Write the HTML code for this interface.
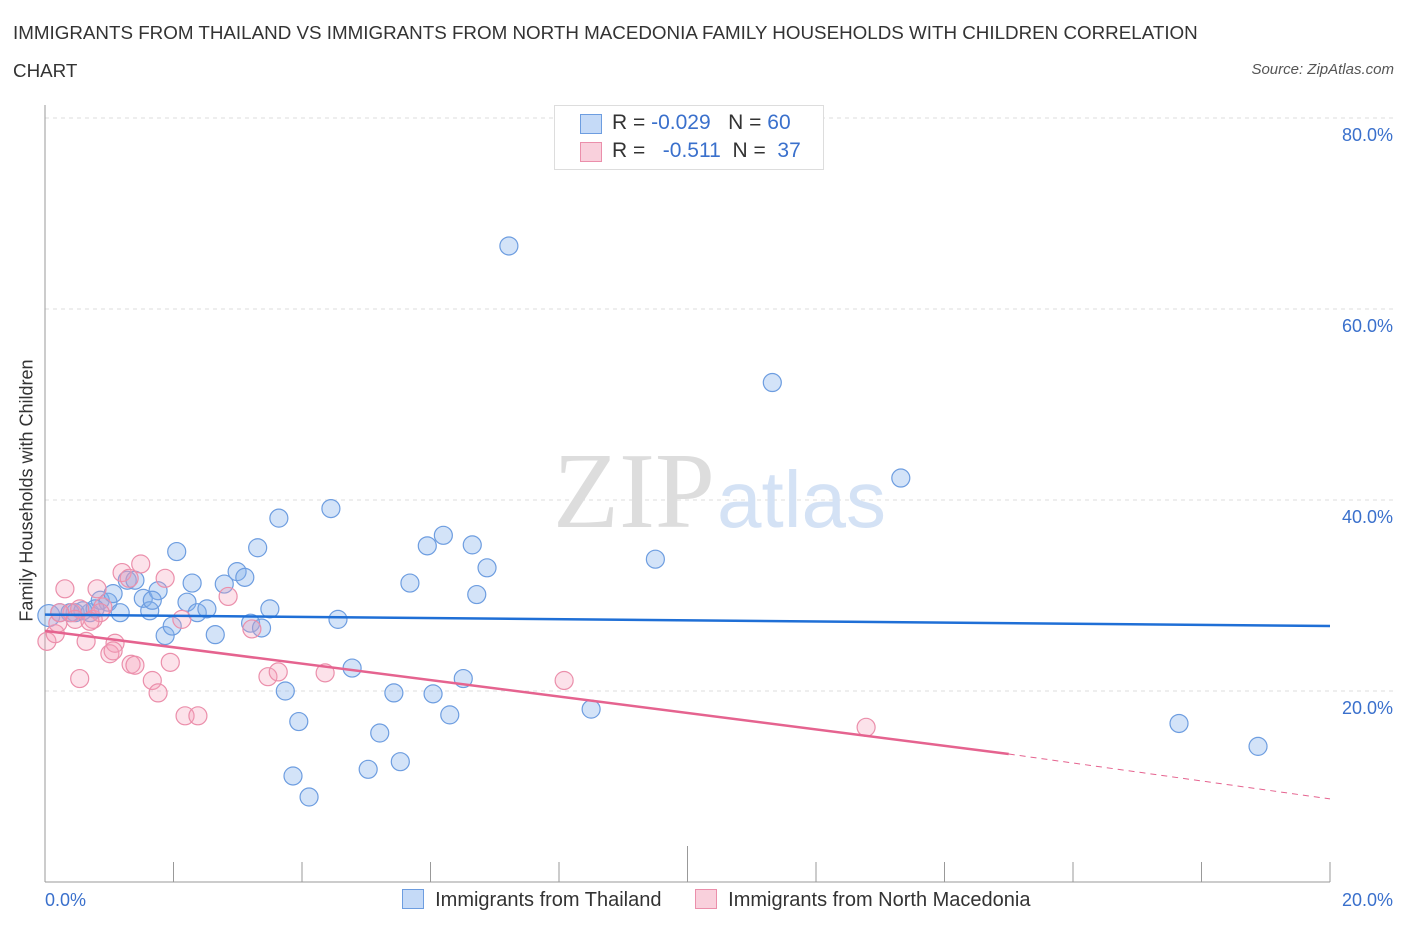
<!DOCTYPE html>
<html><head><meta charset="utf-8"><style>
body{margin:0;background:#fff;font-family:"Liberation Sans",sans-serif;}
.t{position:absolute;left:13px;top:14px;font-size:18.8px;color:#333;line-height:38px;width:1200px}
</style></head><body>
<div class="t">IMMIGRANTS FROM THAILAND VS IMMIGRANTS FROM NORTH MACEDONIA FAMILY HOUSEHOLDS WITH CHILDREN CORRELATION CHART</div>
<div style="position:absolute;right:12px;top:61px;font-size:15px;font-style:italic;color:#555">Source: ZipAtlas.com</div>
<svg id="c" width="1406" height="930" style="position:absolute;left:0;top:0"></svg>
<script>
const yTicks=[20,40,60,80];
const tickLabels=["20.0%","40.0%","60.0%","80.0%"];
const thaiX=[0.06,0.23,0.47,0.7,0.86,0.98,1.06,1.17,1.28,1.4,1.53,1.63,1.76,1.87,1.98,2.05,2.21,2.29,2.37,2.52,2.65,2.79,2.99,3.11,3.2,3.31,3.37,3.5,3.64,3.74,3.86,3.95,4.11,4.45,4.56,4.78,5.03,5.21,5.43,5.53,5.68,5.95,6.04,6.2,6.3,6.51,6.65,6.72,6.88,7.22,8.5,9.5,11.32,13.32,17.65,18.88,0.39,0.59,0.78,1.67];
const thaiY=[27.9,28.2,28.2,28.2,29.5,29.3,30.2,28.2,31.6,31.6,29.7,28.4,30.5,25.8,26.8,34.6,29.3,31.3,28.2,28.6,25.9,31.2,32.5,31.9,27.1,35.0,26.6,28.6,38.1,20.0,11.1,16.8,8.9,39.1,27.5,22.4,11.8,15.6,19.8,12.6,31.3,35.2,19.7,36.3,17.5,21.3,35.3,30.1,32.9,66.6,18.1,33.8,52.3,42.3,16.6,14.2,28.2,28.4,28.6,29.5];
const macX=[0.03,0.16,0.2,0.31,0.42,0.54,0.64,0.75,0.81,0.9,1.01,1.09,1.2,1.31,1.34,1.4,1.49,1.67,1.76,1.87,1.95,2.13,2.18,2.38,2.85,3.22,3.47,3.63,4.36,8.08,12.78,0.54,0.23,0.47,0.86,0.7,1.06];
const macY=[25.2,26.0,27.1,30.7,28.2,28.6,25.2,27.5,30.7,28.8,23.9,25.0,32.4,31.8,22.8,22.7,33.3,21.1,19.8,31.8,23.0,27.5,17.4,17.4,29.9,26.5,21.5,22.0,21.9,21.1,16.2,21.3,28.2,27.5,28.2,27.3,24.2];
const thaiTrend=[28.0,26.8];
const macTrend=[26.3,13.4,8.7];
const W=1406,x0=45,x1=1330,y0=882,ppy=9.55;
const X=v=>x0+(v/20)*(x1-x0), Y=v=>y0-v*ppy;
const svg=document.getElementById('c');const NS='http://www.w3.org/2000/svg';
function mk(t,a,p){const e=document.createElementNS(NS,t);for(const k in a)e.setAttribute(k,a[k]);(p||svg).appendChild(e);return e;}
yTicks.forEach((v,i)=>{
 const g=mk('line',{x1:x0,x2:1395,y1:Y(v),y2:Y(v),stroke:'#ddd','stroke-dasharray':'4,4'});
 
 const t=mk('text',{x:1393,y:Y(v)+23,'text-anchor':'end','font-size':18,fill:'#3a70cc','font-family':'Liberation Sans'});
 t.textContent=tickLabels[i];
});
let ax=mk('line',{x1:x0,x2:x0,y1:105,y2:y0,stroke:'#999'});
let bx=mk('line',{x1:x0,x2:x1,y1:y0,y2:y0,stroke:'#999'});
for(let i=0;i<=10;i++){const tk=mk('line',{x1:X(i*2),x2:X(i*2),y1:y0,y2:i==5?846:862,stroke:'#999'});}
let wm=mk('text',{x:553,y:527,'font-size':108,fill:'#ddd','font-family':'Liberation Serif'});wm.textContent='ZIP';
let wm2=mk('text',{x:717,y:527,'font-size':80,fill:'#d4e2f5','font-family':'Liberation Sans'});wm2.textContent='atlas';
thaiX.forEach((v,i)=>{const c=mk('circle',{cx:X(v),cy:Y(thaiY[i]),r:i==0?11:9,fill:'rgba(130,175,235,0.35)',stroke:'#6d9de0','stroke-width':1.2});});
macX.forEach((v,i)=>{const c=mk('circle',{cx:X(v),cy:Y(macY[i]),r:9,fill:'rgba(245,160,185,0.3)',stroke:'#eb8fab','stroke-width':1.2});});
let l1=mk('line',{x1:X(0),x2:X(20),y1:Y(thaiTrend[0]),y2:Y(thaiTrend[1]),stroke:'#1f6fd6','stroke-width':2.5});
let l2=mk('line',{x1:X(0),x2:X(15),y1:Y(macTrend[0]),y2:Y(macTrend[1]),stroke:'#e5638f','stroke-width':2.5});
let l3=mk('line',{x1:X(15),x2:X(20),y1:Y(macTrend[1]),y2:Y(macTrend[2]),stroke:'#e5638f','stroke-width':1,'stroke-dasharray':'6,5'});
</script>
<div style="position:absolute;left:12px;top:0;width:30px;height:930px"><div style="position:absolute;left:-120px;top:480px;width:270px;transform:rotate(-90deg);font-size:18px;color:#333;text-align:center">Family Households with Children</div></div>
<div style="position:absolute;left:45px;top:890px;font-size:18px;color:#3a70cc">0.0%</div>
<div style="position:absolute;right:13px;top:890px;font-size:18px;color:#3a70cc">20.0%</div>
<div style="position:absolute;left:554px;top:105px;width:268px;height:63px;border:1px solid #ddd;background:#fff;font-size:21px;color:#333">
<div style="position:absolute;left:25px;top:8px;width:20px;height:18px;background:#c5daf7;border:1px solid #6d9de0"></div>
<div style="position:absolute;left:57px;top:5px">R = <span style="color:#3a70cc">-0.029</span>&nbsp;&nbsp;&nbsp;N = <span style="color:#3a70cc">60</span></div>
<div style="position:absolute;left:25px;top:36px;width:20px;height:18px;background:#f9d0dc;border:1px solid #eb8fab"></div>
<div style="position:absolute;left:57px;top:33px">R = &nbsp;&nbsp;<span style="color:#3a70cc">-0.511</span>&nbsp;&nbsp;N = &nbsp;<span style="color:#3a70cc">37</span></div>
</div>
<div style="position:absolute;left:402px;top:889px;font-size:20px;color:#333">
<span style="display:inline-block;width:20px;height:18px;background:#c5daf7;border:1px solid #6d9de0;vertical-align:-3px"></span>&nbsp; Immigrants from Thailand
<span style="display:inline-block;width:20px;height:18px;background:#f9d0dc;border:1px solid #eb8fab;vertical-align:-3px;margin-left:28px"></span>&nbsp; Immigrants from North Macedonia</div>
</body></html>
